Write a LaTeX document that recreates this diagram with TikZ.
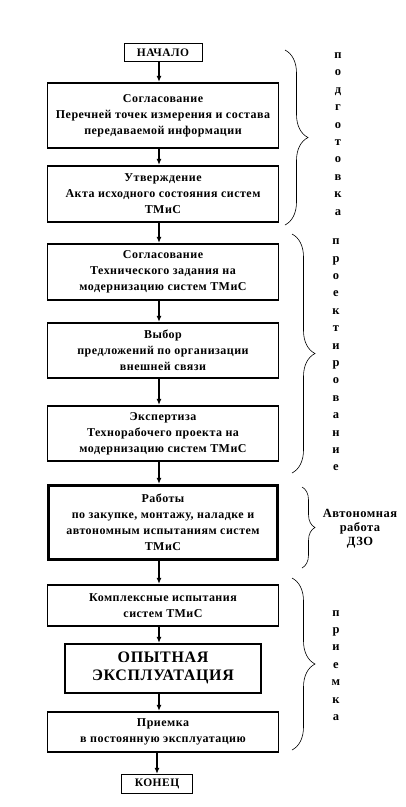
\documentclass[tikz,border=0pt]{standalone}
\usepackage{fontspec}
\setmainfont{Liberation Serif}
\newfontfamily\spacedfont[LetterSpace=4]{Liberation Serif}
\usetikzlibrary{positioning, decorations.pathreplacing, arrows.meta}

\begin{document}
\begin{tikzpicture}[
    x=1pt, y=-1pt,
    stage style/.style={draw, line width=1.6pt, minimum width=231pt, inner sep=2pt, align=center,
      font=\spacedfont\bfseries\fontsize{12}{16}\selectfont},
    term style/.style={draw, line width=0.8pt, inner sep=2pt,
      font=\spacedfont\bfseries\fontsize{11.5}{13}\selectfont},
    flow/.style={-{Latex[length=6pt, width=5pt]}, line width=1.3pt},
    bracket/.style={decorate, decoration={brace, amplitude=#1}, line width=0.6pt},
    phase style/.style={align=center, font=\bfseries\fontsize{12.5}{17.4}\selectfont}
  ]
  \useasboundingbox (0,0) rectangle (406,807);

  % Start
  \node[term style, minimum width=78pt, minimum height=18pt] (start) at (163,52.5) {НАЧАЛО};

  % Preparation
  \node[stage style, minimum height=65.4pt, below=20pt of start] (agree)
    {Согласование\\ Перечней точек измерения и состава\\ передаваемой информации};
  \node[stage style, minimum height=56.4pt, below=16pt of agree] (approve)
    {Утверждение\\ Акта исходного состояния систем\\ ТМиС};

  % Design
  \node[stage style, minimum height=56.4pt, below=20pt of approve] (spec)
    {Согласование\\ Технического задания на\\ модернизацию систем ТМиС};
  \node[stage style, minimum height=55.4pt, below=21pt of spec] (choice)
    {Выбор\\ предложений по организации\\ внешней связи};
  \node[stage style, minimum height=55.4pt, below=26pt of choice] (review)
    {Экспертиза\\ Технорабочего проекта на\\ модернизацию систем ТМиС};

  % Autonomous work
  \node[stage style, line width=2.8pt, minimum width=229pt, minimum height=74.2pt, below=22pt of review] (works)
    {Работы\\ по закупке, монтажу, наладке и\\ автономным испытаниям систем\\ ТМиС};

  % Acceptance
  \node[stage style, minimum height=41.4pt, below=23pt of works] (tests)
    {Комплексные испытания\\ систем ТМиС};
  \node[stage style, line width=2.2pt, minimum width=196pt, minimum height=48.8pt, below=16pt of tests,
    font=\spacedfont\bfseries\fontsize{16}{18}\selectfont] (trial)
    {ОПЫТНАЯ\\ ЭКСПЛУАТАЦИЯ};
  \node[stage style, minimum height=40.4pt, below=17pt of trial] (accept)
    {Приемка\\ в постоянную эксплуатацию};

  % End
  \node[term style, minimum width=71pt, minimum height=19.2pt, below=21pt of accept, xshift=-6pt] (finish)
    {КОНЕЦ};

  % Arrows
  \foreach \a/\b in {start/agree, agree/approve, approve/spec, spec/choice,
                     choice/review, review/works, works/tests, tests/trial, trial/accept}
    \draw[flow] ([xshift=-4pt]\a.south) -- ([xshift=-4pt]\b.north);
  \draw[flow] (accept.south -| finish.north) -- (finish.north);

  % Braces
  \coordinate (p1) at (285,50);  \coordinate (p2) at (285,225);
  \coordinate (d1) at (292,234); \coordinate (d2) at (292,473);
  \coordinate (a1) at (302,487); \coordinate (a2) at (302,568);
  \coordinate (q1) at (292,578); \coordinate (q2) at (292,750);
  \draw[bracket=23pt] (p1) -- (p2);
  \draw[bracket=23pt] (d1) -- (d2);
  \draw[bracket=13pt] (a1) -- (a2);
  \draw[bracket=23pt] (q1) -- (q2);

  % Phase labels
  \node[phase style] (prep) at (338,134)
    {п\\о\\д\\г\\о\\т\\о\\в\\к\\а};
  \node[phase style] (design) at (336,355)
    {п\\р\\о\\е\\к\\т\\и\\р\\о\\в\\а\\н\\и\\е};
  \node[phase style, font=\spacedfont\bfseries\fontsize{12.5}{14}\selectfont] (auto) at (360,529)
    {Автономная\\ работа\\ ДЗО};
  \node[phase style] (accepting) at (336,665.5)
    {п\\р\\и\\е\\м\\к\\а};

\end{tikzpicture}
\end{document}
